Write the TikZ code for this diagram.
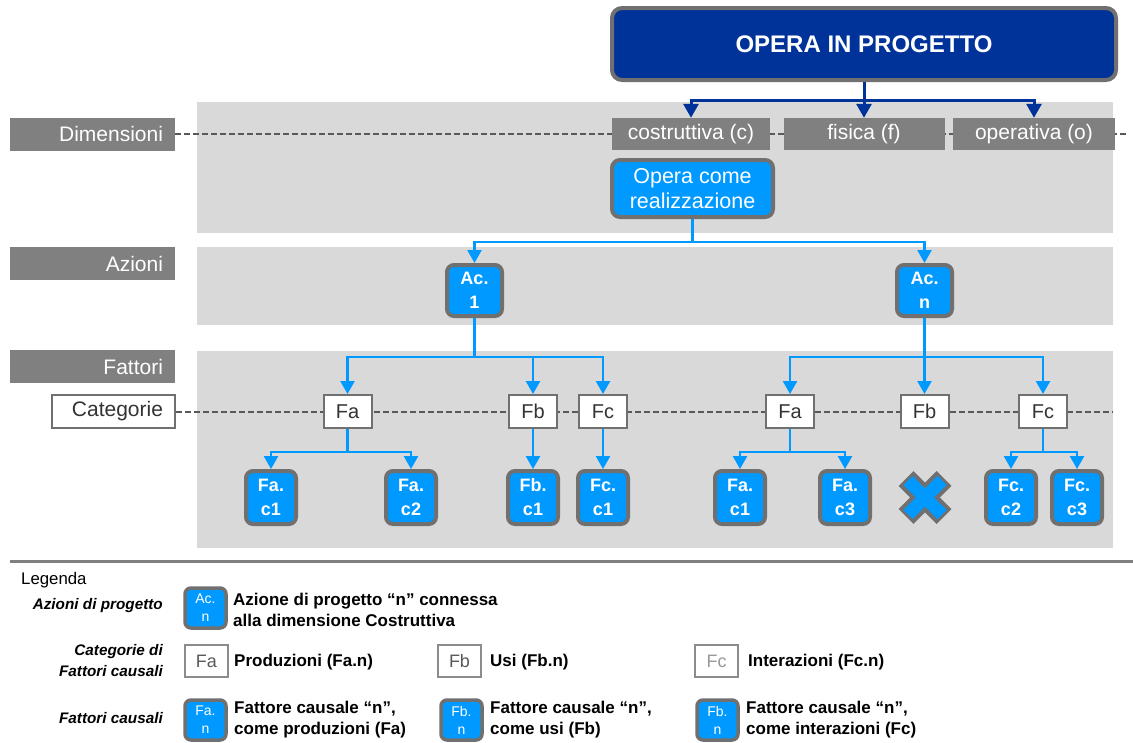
\documentclass[tikz,border=0pt]{standalone}
\usepackage{fontspec}
\setmainfont{Liberation Sans}
\usetikzlibrary{arrows.meta}
\definecolor{dblue}{HTML}{003399}
\definecolor{lblue}{HTML}{0099FF}
\definecolor{lgray}{HTML}{D9D9D9}
\definecolor{mgray}{HTML}{808080}
\definecolor{bgray}{HTML}{707070}
\pgfdeclarelayer{bg}
\pgfdeclarelayer{mid}
\pgfsetlayers{bg,mid,main}
\tikzset{
  band/.style={fill=lgray, draw=none},
  lab/.style={fill=mgray, text=white, minimum height=33, inner xsep=12, inner ysep=0, text width=141, align=right, font=\fontsize{21}{25}\selectfont},
  dimbox/.style={fill=mgray, text=white, minimum height=32, inner sep=0, font=\fontsize{21}{25}\selectfont},
  topbox/.style={fill=dblue, draw=bgray, line width=4, rounded corners=10, text=white, inner sep=0, font=\bfseries\fontsize{24}{28}\selectfont},
  ocrbox/.style={fill=lblue, draw=bgray, line width=4, rounded corners=8, text=white, align=center, inner sep=0, font=\fontsize{21.5}{25}\selectfont},
  acbox/.style={fill=lblue, draw=bgray, line width=4, rounded corners=7, text=white, align=center, inner sep=0, font=\bfseries\fontsize{18}{24}\selectfont},
  catbox/.style={fill=white, draw=bgray, line width=2, minimum width=48, minimum height=33, inner sep=0, text=black!80, font=\fontsize{20}{24}\selectfont},
  dashline/.style={draw=black!65, line width=2, dash pattern=on 6 off 3},
  darr/.style={draw=dblue, line width=3, -{Triangle[width=15,length=14]}},
  larr/.style={draw=lblue, line width=2.5, -{Triangle[width=14,length=13]}},
  legbox/.style={fill=lblue, draw=bgray, line width=3.5, rounded corners=6, minimum width=41, minimum height=40, inner sep=0, text=white, align=center, font=\fontsize{14}{18}\selectfont},
  legcat/.style={fill=white, draw=black!45, line width=2, minimum width=43, minimum height=32, inner sep=0, text=black!65, font=\fontsize{18}{22}\selectfont},
  legtxt/.style={anchor=west, align=left, inner sep=0, font=\bfseries\fontsize{17}{21}\selectfont},
  legitl/.style={anchor=east, align=right, inner sep=0, font=\bfseries\itshape\fontsize{15.3}{21}\selectfont},
}
\begin{document}
\begin{tikzpicture}[x=1pt,y=-1pt]
\useasboundingbox (0,0) rectangle (1133,742);

% bands
\begin{pgfonlayer}{bg}
\fill[band] (197,102) rectangle (1113,233);
\fill[band] (197,247) rectangle (1113,325);
\fill[band] (197,351) rectangle (1113,548);
\end{pgfonlayer}

% top
\node[topbox, minimum width=504, minimum height=72] (top) at (864,44) {OPERA IN PROGETTO};

% row labels
\node[lab, minimum width=165] (dim) at (92.5,134) {Dimensioni};
\node[lab] (azi) at (92.5,263.5) {Azioni};
\node[lab] (fat) at (92.5,366.5) {Fattori};
\node[lab, fill=white, draw=bgray, line width=2.5, text=black!80, text width=99] (cat) at (113.5,411.5) {Categorie};

% dimensions
\node[dimbox, minimum width=158] (cos) at (691,134) {costruttiva (c)};
\node[dimbox, minimum width=161] (fis) at (864,134) {fisica (f)};
\node[dimbox, minimum width=162] (ope) at (1034,134) {operativa (o)};
\coordinate (dimend) at (1126,134);
\coordinate (catend) at (1113,411.5);

\begin{pgfonlayer}{mid}
\draw[dashline] (dim.east) -- (dimend);
\draw[dashline] (cat.east) -- (catend);
\end{pgfonlayer}

\node[ocrbox, minimum width=161, minimum height=57] (ocr) at (692.5,188.5) {Opera come\\realizzazione};

% actions
\node[acbox, minimum width=55, minimum height=51] (ac1) at (474.5,290.5) {Ac.\\1};
\node[acbox, minimum width=55, minimum height=51] (acn) at (924.5,290.5) {Ac.\\n};

% categories
\node[catbox] (faL) at (347.5,411.5) {Fa};
\node[catbox] (fbL) at (533,411.5) {Fb};
\node[catbox] (fcL) at (603,411.5) {Fc};
\node[catbox] (faR) at (790,411.5) {Fa};
\node[catbox] (fbR) at (924.5,411.5) {Fb};
\node[catbox] (fcR) at (1043,411.5) {Fc};

% factors
\tikzset{fbox/.style={acbox, minimum width=50, minimum height=53}}
\node[fbox] (fa1) at (271,497.5) {Fa.\\c1};
\node[fbox] (fa2) at (411,497.5) {Fa.\\c2};
\node[fbox] (fb1) at (533,497.5) {Fb.\\c1};
\node[fbox] (fc1) at (603,497.5) {Fc.\\c1};
\node[fbox] (fa1R) at (740,497.5) {Fa.\\c1};
\node[fbox] (fa3R) at (845,497.5) {Fa.\\c3};
\node[fbox] (fc2R) at (1011,497.5) {Fc.\\c2};
\node[fbox] (fc3R) at (1077,497.5) {Fc.\\c3};

% cross
\coordinate (xm) at (925,497.5);
\draw[bgray, line width=21] ([shift={(-19,-19)}]xm) -- ([shift={(19,19)}]xm);
\draw[bgray, line width=21] ([shift={(-19,19)}]xm) -- ([shift={(19,-19)}]xm);
\draw[lblue, line width=13] ([shift={(-17,-17)}]xm) -- ([shift={(17,17)}]xm);
\draw[lblue, line width=13] ([shift={(-17,17)}]xm) -- ([shift={(17,-17)}]xm);

% connectors dark blue
\draw[darr] (top.south) -- (fis.north);
\draw[darr] (top.south) -- ++(0,18) -| (cos.north);
\draw[darr] (top.south) -- ++(0,18) -| (ope.north);

% connectors light blue
\draw[larr] (ocr.south) -- ++(0,23) -| (ac1.north);
\draw[larr] (ocr.south) -- ++(0,23) -| (acn.north);

\draw[larr] (ac1.south) -- ++(0,39) -| (faL.north);
\draw[larr] (ac1.south) -- ++(0,39) -| (fbL.north);
\draw[larr] (ac1.south) -- ++(0,39) -| (fcL.north);

\draw[larr] (acn.south) -- (fbR.north);
\draw[larr] (acn.south) -- ++(0,39) -| (faR.north);
\draw[larr] (acn.south) -- ++(0,39) -| (fcR.north);

\draw[larr] (faL.south) -- ++(0,23) -| (fa1.north);
\draw[larr] (faL.south) -- ++(0,23) -| (fa2.north);
\draw[larr] (fbL.south) -- (fb1.north);
\draw[larr] (fcL.south) -- (fc1.north);
\draw[larr] (faR.south) -- ++(0,23) -| (fa1R.north);
\draw[larr] (faR.south) -- ++(0,23) -| (fa3R.north);
\draw[larr] (fcR.south) -- ++(0,23) -| (fc2R.north);
\draw[larr] (fcR.south) -- ++(0,23) -| (fc3R.north);

% legend separator
\draw[black!50, line width=3] (10,561) -- (1133,561);

\node[anchor=west, inner sep=0, font=\fontsize{16.8}{20}\selectfont] (leg) at (21,580) {Legenda};

\node[legitl] (l1) at (163,606) {Azioni di progetto};
\node[legbox] (lac) at (205.5,608) {Ac.\\n};
\node[legtxt] (l1t) at (233,610) {Azione di progetto “n” connessa\\alla dimensione Costruttiva};

\node[legitl] (l2) at (163,661) {Categorie di\\Fattori causali};
\node[legcat] (lfa) at (206.5,661) {Fa};
\node[legtxt] (lfat) at (234,662) {Produzioni (Fa.n)};
\node[legcat] (lfb) at (459.5,661) {Fb};
\node[legtxt] (lfbt) at (490,662) {Usi (Fb.n)};
\node[legcat, text=black!40] (lfc) at (716.5,661) {Fc};
\node[legtxt] (lfct) at (748,662) {Interazioni (Fc.n)};

\node[legitl] (l3) at (163,718) {Fattori causali};
\node[legbox] (lfan) at (205.5,720) {Fa.\\n};
\node[legtxt] (lfant) at (234,720) {Fattore causale “n”,\\come produzioni (Fa)};
\node[legbox] (lfbn) at (461.5,720) {Fb.\\n};
\node[legtxt] (lfbnt) at (490,720) {Fattore causale “n”,\\come usi (Fb)};
\node[legbox] (lfcn) at (717.5,720) {Fb.\\n};
\node[legtxt] (lfcnt) at (746,720) {Fattore causale “n”,\\come interazioni (Fc)};
\end{tikzpicture}
\end{document}
